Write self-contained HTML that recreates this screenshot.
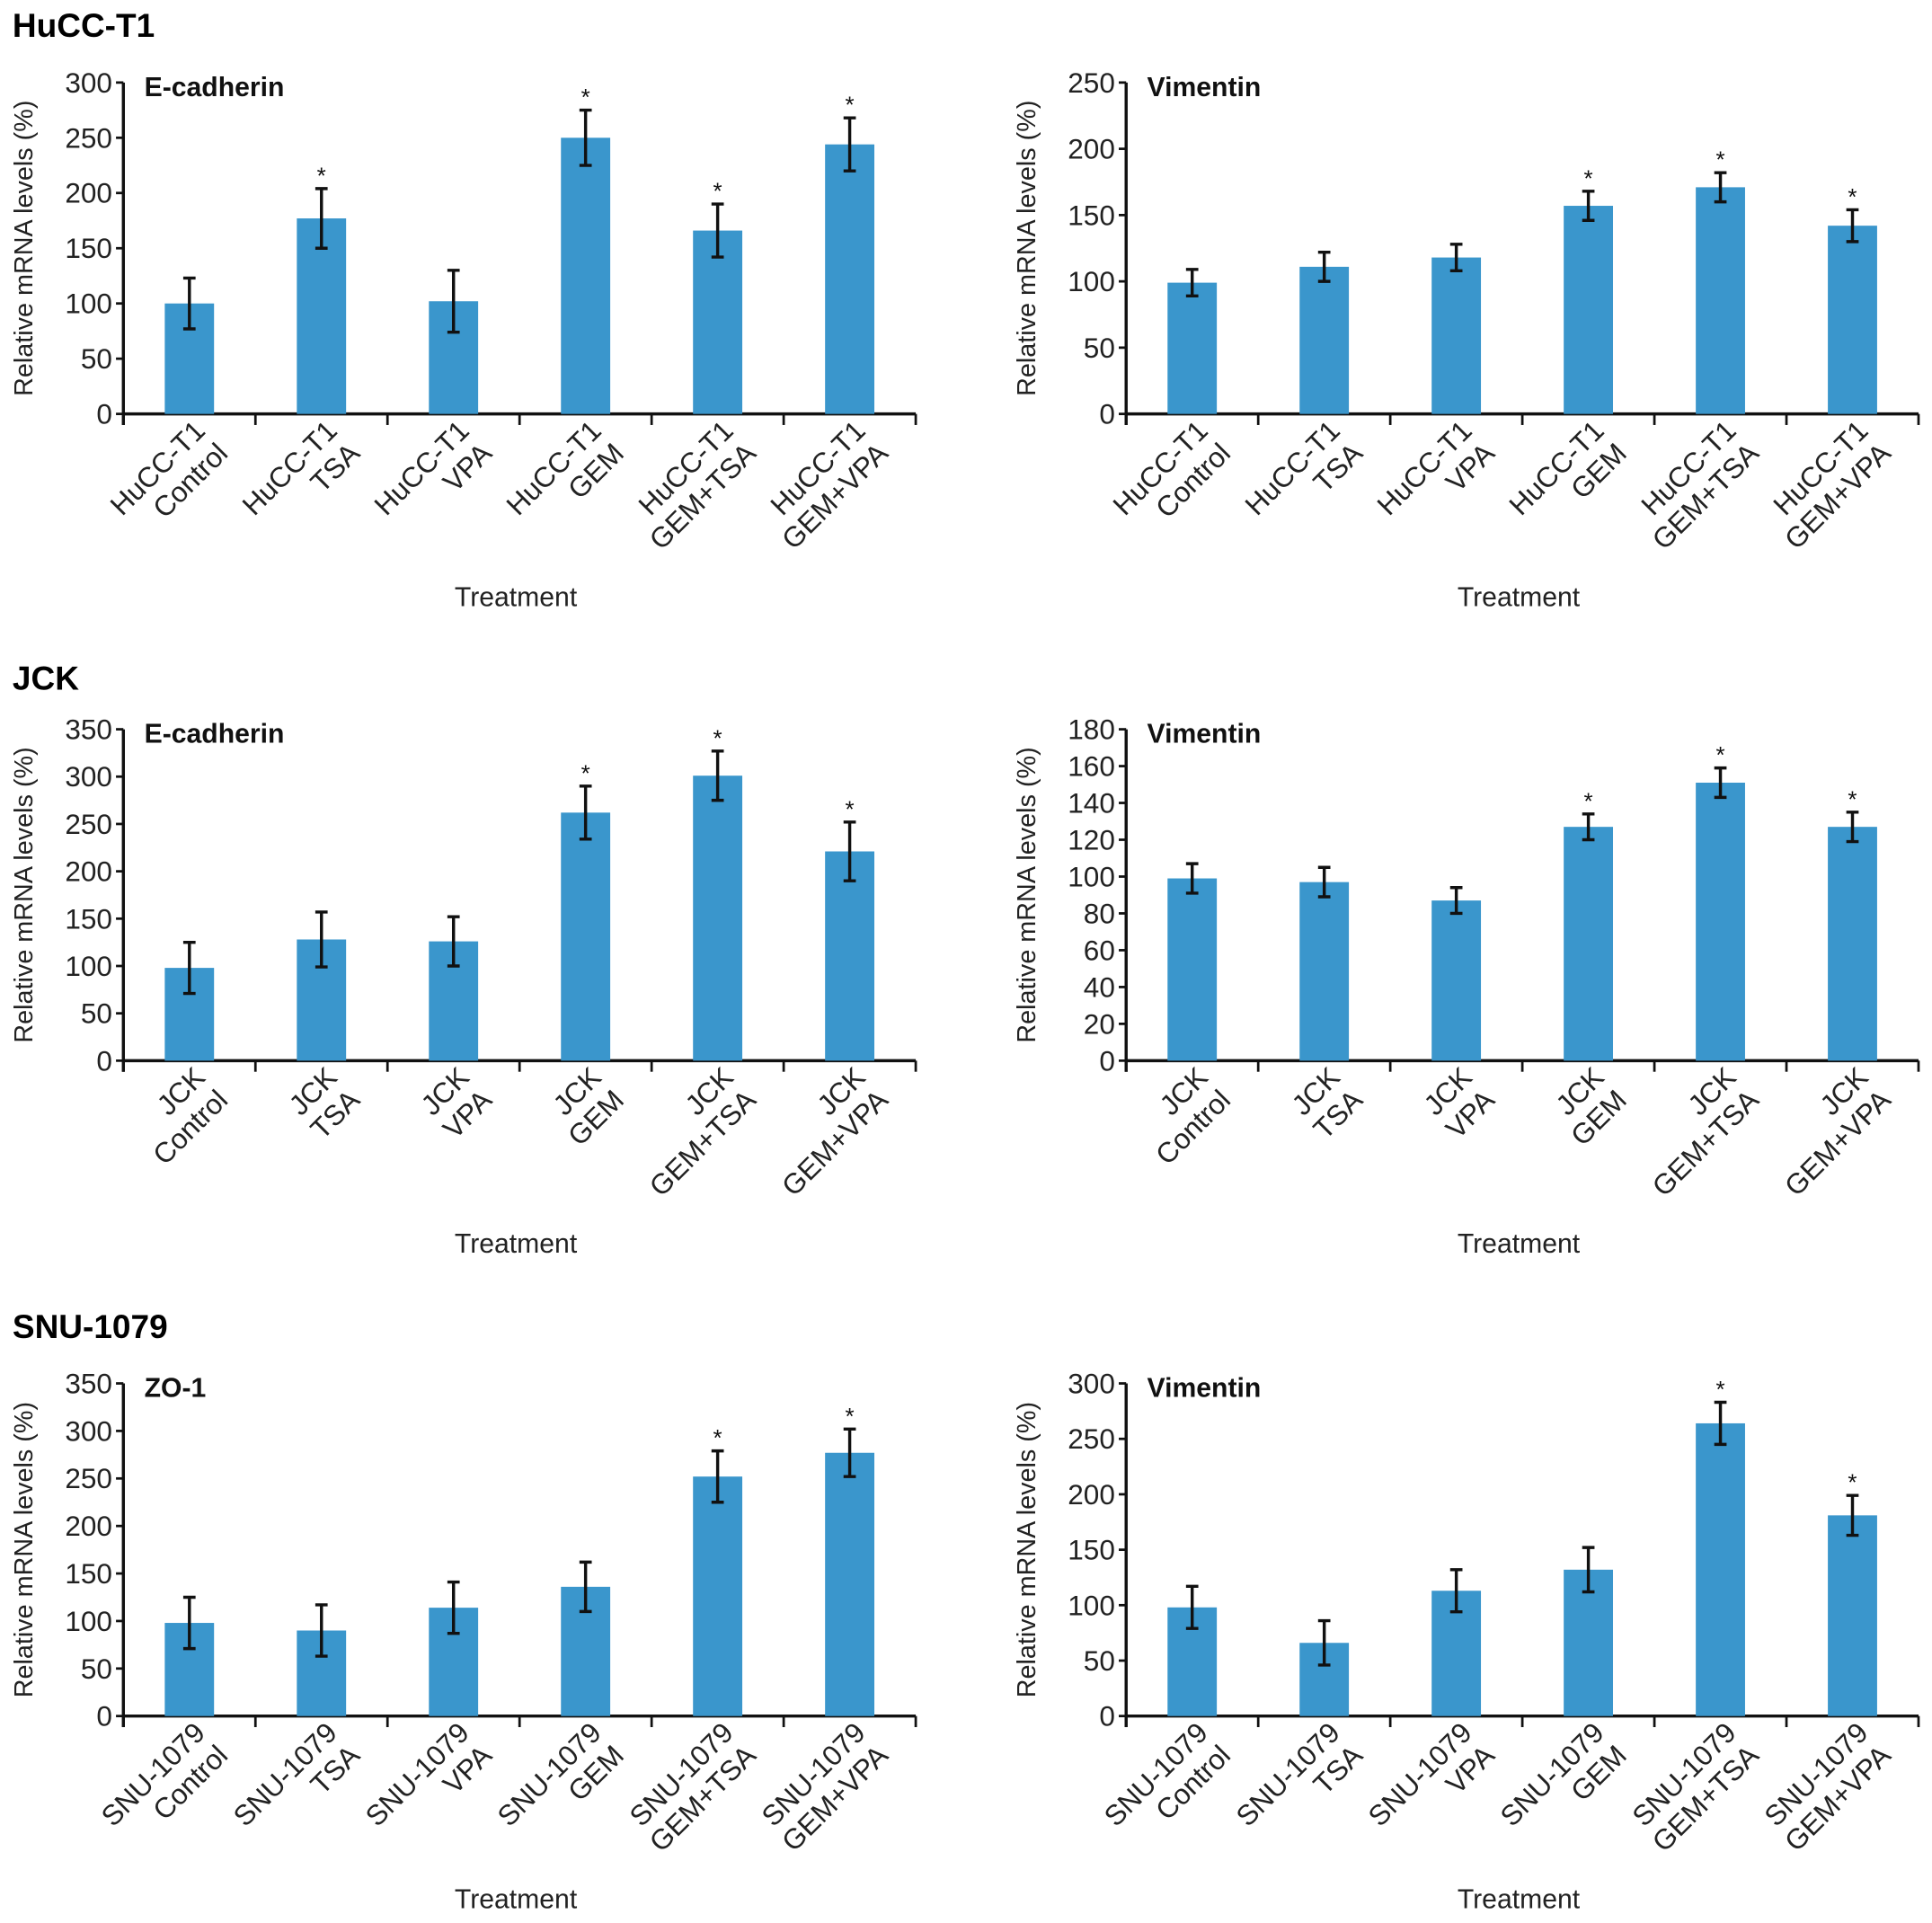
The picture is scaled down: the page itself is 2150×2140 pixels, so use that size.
<!DOCTYPE html>
<html><head><meta charset="utf-8"><style>
html,body{margin:0;padding:0;background:#fff;}
svg{display:block;font-family:"Liberation Sans",Arial,sans-serif;}
</style></head><body>
<svg id="fig" width="2150" height="2140" viewBox="0 0 1568 1561" xmlns="http://www.w3.org/2000/svg">
<text x="10" y="30" font-size="27" font-weight="bold">HuCC-T1</text>
<text x="10" y="560" font-size="27" font-weight="bold">JCK</text>
<text x="10" y="1086" font-size="27" font-weight="bold">SNU-1079</text>
</svg>
<script>
// Data arrays
const treatments = ["Control","TSA","VPA","GEM","GEM+TSA","GEM+VPA"];
const huccEcadVals = [100,177,102,250,166,244];
const huccEcadErr = [23,27,28,25,24,24];
const huccEcadStar = [0,1,0,1,1,1];
const huccVimVals = [99,111,118,157,171,142];
const huccVimErr = [10,11,10,11,11,12];
const huccVimStar = [0,0,0,1,1,1];
const jckEcadVals = [98,128,126,262,301,221];
const jckEcadErr = [27,29,26,28,26,31];
const jckEcadStar = [0,0,0,1,1,1];
const jckVimVals = [99,97,87,127,151,127];
const jckVimErr = [8,8,7,7,8,8];
const jckVimStar = [0,0,0,1,1,1];
const snuZoVals = [98,90,114,136,252,277];
const snuZoErr = [27,27,27,26,27,25];
const snuZoStar = [0,0,0,0,1,1];
const snuVimVals = [98,66,113,132,264,181];
const snuVimErr = [19,20,19,20,19,18];
const snuVimStar = [0,0,0,0,1,1];
const ticks300 = [0,50,100,150,200,250,300];
const ticks250 = [0,50,100,150,200,250];
const ticks350 = [0,50,100,150,200,250,300,350];
const ticks180 = [0,20,40,60,80,100,120,140,160,180];

const NS = "http://www.w3.org/2000/svg";
const svg = document.getElementById('fig');
function mk(tag, attrs, parent){const e=document.createElementNS(NS,tag);for(const k in attrs)e.setAttribute(k,attrs[k]);(parent||svg).appendChild(e);return e;}

function panel(id, x0, top, bottom, ticks, vals, errs, stars, label, cell){
  const g = mk('g',{});
  
  
  const ymax = ticks[ticks.length-1];
  const y = v => bottom - (v/ymax)*(bottom-top);
  const step = 107.2, x1 = x0 + step*6;
  const xc = i => x0 + step*(i+0.5);
  const ya = mk('line',{x1:x0,y1:top,x2:x0,y2:bottom+9,stroke:'#111','stroke-width':2.5},g);
   
  const xa = mk('line',{x1:x0,y1:bottom,x2:x1,y2:bottom,stroke:'#111','stroke-width':2.5},g);
   
  ticks.forEach(t=>{
    mk('line',{x1:x0-6,y1:y(t),x2:x0,y2:y(t),stroke:'#111','stroke-width':2},g);
    const tl = mk('text',{x:x0-9,y:y(t)+8,'font-size':23,'text-anchor':'end',fill:'#222'},g);
    tl.textContent = t;
     
  });
  for(let i=0;i<=6;i++) mk('line',{x1:x0+step*i,y1:bottom,x2:x0+step*i,y2:bottom+9,stroke:'#111','stroke-width':2},g);
  vals.forEach((v,i)=>{
    const b = mk('rect',{x:xc(i)-20,y:y(v),width:40,height:bottom-y(v),fill:'#3a96cc'},g);
    
    
    const hi=y(v+errs[i]), lo=y(v-errs[i]);
    const eb = mk('path',{d:`M${xc(i)},${hi}V${lo}M${xc(i)-5},${hi}H${xc(i)+5}M${xc(i)-5},${lo}H${xc(i)+5}`,stroke:'#111','stroke-width':2.5,fill:'none'},g);
     
    if(stars[i]){
      const s = mk('text',{x:xc(i),y:hi-4,'font-size':19,'text-anchor':'middle',fill:'#111'},g);
      s.textContent='*';
       
    }
    const ax = xc(i)+14, ay = bottom+15;
    const t = mk('text',{transform:`translate(${ax},${ay}) rotate(-45)`,'font-size':23,'text-anchor':'end',fill:'#222'},g);
     
    const s1 = mk('tspan',{x:0,y:0},t); s1.textContent = cell;
    const s2 = mk('tspan',{x:0,y:26},t); s2.textContent = treatments[i];
  });
  const pl = mk('text',{x:x0+17,y:top+11,'font-size':22,'font-weight':'bold',fill:'#111'},g);
  pl.textContent = label;
   
  const mid = (top+bottom)/2;
  const yt = mk('text',{transform:`translate(${x0-74},${mid}) rotate(-90)`,'font-size':21,'text-anchor':'middle',fill:'#222'},g);
  yt.textContent = 'Relative mRNA levels (%)';
   
  const xt = mk('text',{x:(x0+x1)/2 - 3,y:bottom+156,'font-size':22,'text-anchor':'middle',fill:'#222'},g);
  xt.textContent = 'Treatment';
   
}
panel('hucc-ecadherin-chart',100,67,336,ticks300,huccEcadVals,huccEcadErr,huccEcadStar,'E-cadherin','HuCC-T1');
panel('hucc-vimentin-chart',914,67,336,ticks250,huccVimVals,huccVimErr,huccVimStar,'Vimentin','HuCC-T1');
panel('jck-ecadherin-chart',100,592,861,ticks350,jckEcadVals,jckEcadErr,jckEcadStar,'E-cadherin','JCK');
panel('jck-vimentin-chart',914,592,861,ticks180,jckVimVals,jckVimErr,jckVimStar,'Vimentin','JCK');
panel('snu-zo1-chart',100,1123,1393,ticks350,snuZoVals,snuZoErr,snuZoStar,'ZO-1','SNU-1079');
panel('snu-vimentin-chart',914,1123,1393,ticks300,snuVimVals,snuVimErr,snuVimStar,'Vimentin','SNU-1079');
</script>
</body></html>
